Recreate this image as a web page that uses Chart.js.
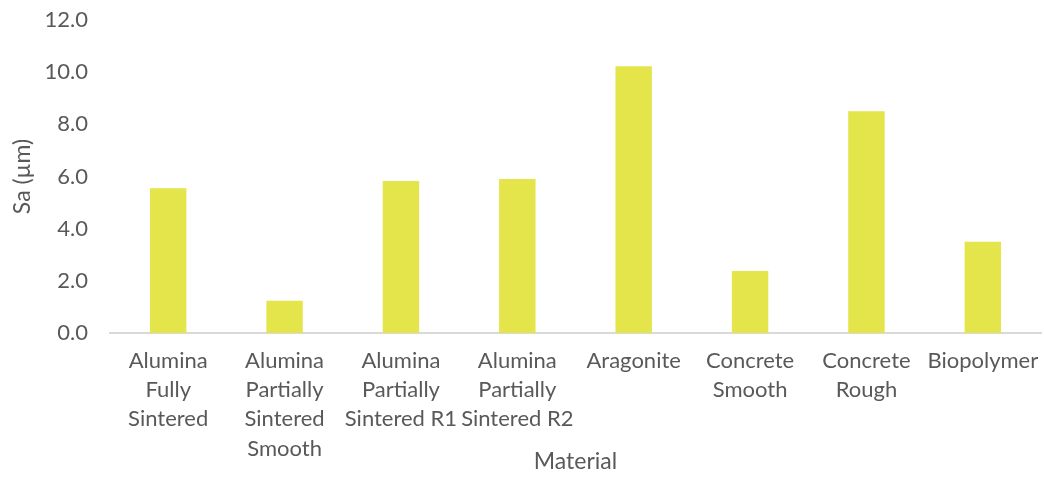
<!DOCTYPE html>
<html>
<head>
<meta charset="utf-8">
<script src="https://cdn.jsdelivr.net/npm/chart.js@4"></script>
<style>
  html, body { margin: 0; padding: 0; background: #fff; }
  #wrap { width: 1044px; height: 477px; }
</style>
</head>
<body>
<div id="wrap"><canvas id="saChart" width="1044" height="477"></canvas></div>
<script>
const materials = [
    ['Alumina', 'Fully', 'Sintered'],
    ['Alumina', 'Partially', 'Sintered', 'Smooth'],
    ['Alumina', 'Partially', 'Sintered R1'],
    ['Alumina', 'Partially', 'Sintered R2'],
    'Aragonite',
    ['Concrete', 'Smooth'],
    ['Concrete', 'Rough'],
    'Biopolymer'
];
const saValues = [5.55, 1.24, 5.83, 5.90, 10.23, 2.38, 8.50, 3.50];
const yTicks = [0, 2, 4, 6, 8, 10, 12];

const textColor = '#595959';
const labelFont = { family: 'Lato, "Open Sans", sans-serif', size: 22, lineHeight: 1.33 };
const titleFont = { family: 'Lato, "Open Sans", sans-serif', size: 23, lineHeight: 1.33 };

const saCtx = document.getElementById('saChart').getContext('2d');

const saChart = new Chart(saCtx, {
    type: 'bar',
    data: {
        labels: materials,
        datasets: [{
            label: 'Sa (µm)',
            data: saValues,
            backgroundColor: '#E3E54A',
            borderWidth: 0,
            barPercentage: 0.313,
            categoryPercentage: 1.0
        }]
    },
    options: {
        responsive: false,
        animation: false,
        layout: {
            padding: { left: 4, right: 3, top: 20, bottom: 0 }
        },
        plugins: {
            legend: { display: false },
            tooltip: { enabled: false }
        },
        scales: {
            x: {
                grid: { display: false, drawTicks: false },
                border: { display: true, color: '#D9D9D9', width: 2 },
                // fixed band height: the title sits beside the last label line
                afterFit: (axis) => {
                    axis.height = 144;
                    axis.paddingLeft = 0;
                    axis.paddingRight = 0;
                },
                ticks: {
                    color: textColor,
                    font: labelFont,
                    autoSkip: false,
                    maxRotation: 0,
                    padding: 13
                },
                title: {
                    display: true,
                    text: 'Material',
                    color: textColor,
                    font: titleFont,
                    padding: { top: 0, bottom: 0 }
                }
            },
            y: {
                min: yTicks[0],
                max: yTicks[yTicks.length - 1],
                grid: { display: false, drawTicks: false },
                border: { display: false },
                afterBuildTicks: (axis) => {
                    axis.ticks = yTicks.map(v => ({ value: v }));
                },
                afterFit: (axis) => {
                    axis.width = 106;
                    axis.paddingTop = 0;
                    axis.paddingBottom = 0;
                },
                ticks: {
                    color: textColor,
                    font: labelFont,
                    padding: 22,
                    callback: (v) => Number(v).toFixed(1)
                },
                title: {
                    display: true,
                    text: 'Sa (µm)',
                    color: textColor,
                    font: titleFont,
                    padding: { top: 3, bottom: 4 }
                }
            }
        }
    }
});
</script>
</body>
</html>
